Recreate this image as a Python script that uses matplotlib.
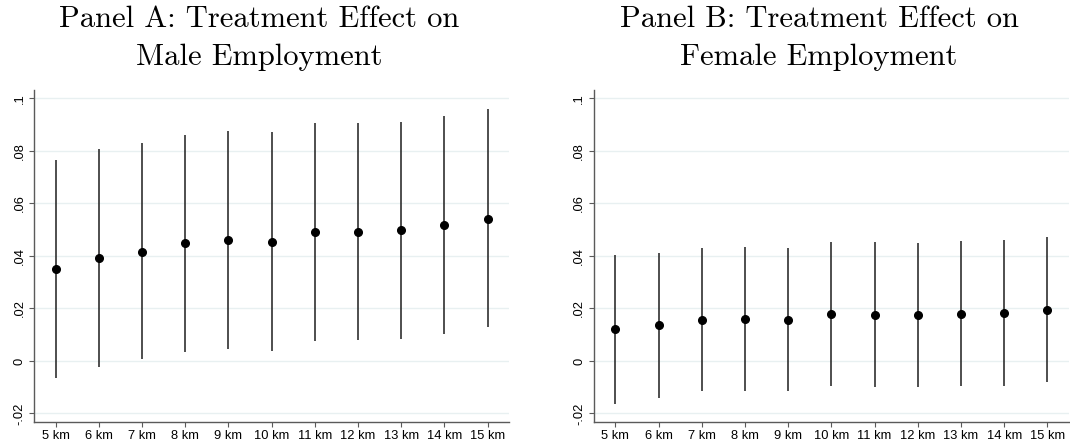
import matplotlib
matplotlib.use("Agg")
import matplotlib.pyplot as plt

# distance bands
bands = [5, 6, 7, 8, 9, 10, 11, 12, 13, 14, 15]
band_labels = ["5 km", "6 km", "7 km", "8 km", "9 km", "10 km",
               "11 km", "12 km", "13 km", "14 km", "15 km"]

# Panel A: male employment (point estimate, 95% CI)
male_coef = [0.0349, 0.0392, 0.0416, 0.0448, 0.0461, 0.0454,
             0.0490, 0.0492, 0.0497, 0.0518, 0.0542]
male_lo = [-0.0066, -0.0022, 0.0006, 0.0036, 0.0047, 0.0039,
           0.0076, 0.0080, 0.0085, 0.0103, 0.0128]
male_hi = [0.0765, 0.0807, 0.0829, 0.0862, 0.0874, 0.0872,
           0.0906, 0.0907, 0.0911, 0.0933, 0.0958]

# Panel B: female employment
female_coef = [0.0121, 0.0135, 0.0157, 0.0160, 0.0157, 0.0179,
               0.0176, 0.0174, 0.0180, 0.0181, 0.0194]
female_lo = [-0.0164, -0.0140, -0.0115, -0.0113, -0.0115, -0.0094,
             -0.0098, -0.0100, -0.0094, -0.0094, -0.0081]
female_hi = [0.0405, 0.0410, 0.0431, 0.0434, 0.0429, 0.0453,
             0.0452, 0.0449, 0.0457, 0.0459, 0.0471]

yticks = [-0.02, 0, 0.02, 0.04, 0.06, 0.08, 0.1]
ytick_labels = ["-.02", "0", ".02", ".04", ".06", ".08", ".1"]

title_a = ["Panel A: Treatment Effect on", "Male Employment"]
title_b = ["Panel B: Treatment Effect on", "Female Employment"]

W, H = 1070, 447
fig = plt.figure(figsize=(W / 100, H / 100), dpi=100)

tick_font = "Liberation Sans"
axis_col = "#5a5a5a"
grid_col = "#e8f0f1"


def panel(left_px, coef, lo, hi):
    ax = fig.add_axes([left_px / W, (H - 421.5) / H, 475.3 / W, 331.5 / H])
    # grid
    for y in yticks:
        ax.axhline(y, color=grid_col, lw=1.0, zorder=0)
    # confidence intervals and points
    ax.vlines(bands, lo, hi, color="#1e1e1e", lw=1.1, zorder=2)
    ax.plot(bands, coef, "o", color="black", ms=5.5, zorder=3)
    ax.set_xlim(4.5, 15.5)
    ax.set_ylim(-0.02305, 0.10316)
    ax.set_xticks(bands)
    ax.set_xticklabels(band_labels, fontfamily=tick_font, fontsize=9.3)
    ax.set_yticks(yticks)
    ax.set_yticklabels(ytick_labels, fontfamily=tick_font, fontsize=9.3,
                       rotation=90, va="center")
    ax.spines["top"].set_visible(False)
    ax.spines["right"].set_visible(False)
    for s in ["left", "bottom"]:
        ax.spines[s].set_color(axis_col)
        ax.spines[s].set_linewidth(1.0)
    ax.tick_params(axis="both", direction="out", length=3.5, width=0.8,
                   color=axis_col, pad=2.6)
    return ax


panel(34, male_coef, male_lo, male_hi)
panel(593.7, female_coef, female_lo, female_hi)

for cx, lines in [(259, title_a), (819, title_b)]:
    for i, line in enumerate(lines):
        fig.text(cx / W, 1 - (26.7 + 38 * i) / H, line, fontfamily="cmr10",
                 fontsize=22, ha="center", va="baseline")

fig.savefig("out.png", dpi=100)
